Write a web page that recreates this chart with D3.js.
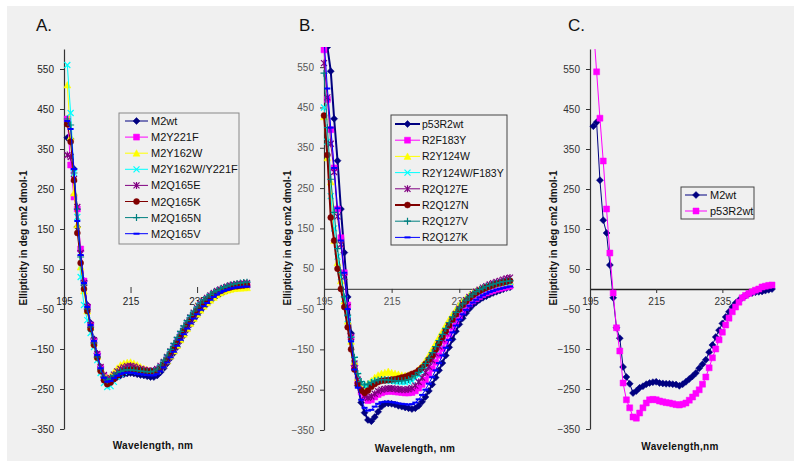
<!DOCTYPE html>
<html><head><meta charset="utf-8">
<script src="https://cdn.jsdelivr.net/npm/d3@7"></script>
<style>body{margin:0;background:#fff}svg{display:block}text{font-family:"Liberation Sans",Arial,sans-serif}</style>
</head><body><svg id="c" width="800" height="466"></svg>
<script>
// ---------- DATA ----------
const yTicks = [550, 450, 350, 250, 150, 50, -50, -150, -250, -350];
const xTicks = [195, 215, 235];
const yTitle = "Ellipticity in deg cm2 dmol-1";

const wavelengthsA = [196,197,198,199,200,201,202,203,204,205,206,207,208,209,210,211,212,213,214,215,216,217,218,219,220,221,222,223,224,225,226,227,228,229,230,231,232,233,234,235,236,237,238,239,240,241,242,243,244,245,246,247,248,249,250];
const namesA = ["M2wt","M2Y221F","M2Y162W","M2Y162W/Y221F","M2Q165E","M2Q165K","M2Q165N","M2Q165V"];
const M2wt_A = [378,375,300,155,95,20,-40,-85,-125,-162, -195,-220,-235,-233,-226,-220,-216,-213,-211,-210, -211,-213,-215,-216,-218,-220,-220,-216,-208,-198, -186,-173,-160,-145,-130,-116,-102,-89,-77,-66, -55,-45,-37,-29,-22,-16,-11,-7,-3,0, 2,3,4,5,5];
const M2Y221F_A = [425,310,230,200,100,20,-45,-90,-130,-165, -198,-218,-228,-226,-218,-210,-203,-198,-195,-193, -195,-198,-201,-203,-205,-206,-206,-203,-196,-186, -174,-161,-147,-132,-117,-103,-89,-76,-64,-53, -43,-34,-27,-20,-14,-9,-5,-1,2,4, 6,7,8,9,10];
const M2Y162W_A = [510,380,240,160,55,-5,-55,-95,-135,-168, -198,-215,-222,-218,-208,-198,-190,-186,-184,-183, -186,-190,-195,-199,-202,-205,-206,-204,-198,-190, -180,-168,-155,-141,-127,-113,-99,-86,-74,-63, -53,-43,-35,-28,-21,-15,-10,-6,-3,-1, 1,2,2,3,3];
const M2Y162WY221F_A = [560,440,290,180,30,-40,-78,-110,-145,-178, -210,-235,-245,-243,-232,-220,-212,-207,-204,-203, -204,-206,-207,-208,-209,-209,-208,-204,-196,-186, -173,-160,-146,-131,-116,-101,-87,-74,-62,-51, -41,-32,-25,-18,-12,-7,-3,1,4,7, 9,10,11,12,12];
const M2Q165E_A = [335,330,275,205,90,15,-45,-90,-128,-162, -195,-215,-225,-222,-214,-206,-200,-196,-193,-192, -194,-197,-200,-202,-204,-205,-204,-200,-192,-182, -170,-156,-142,-127,-112,-98,-84,-71,-59,-48, -38,-30,-22,-16,-10,-5,-1,3,6,9, 11,12,13,14,15];
const M2Q165K_A = [412,368,272,140,65,0,-55,-100,-140,-172, -205,-228,-238,-234,-225,-216,-210,-206,-203,-202, -202,-203,-204,-205,-206,-206,-206,-205,-198,-188, -176,-162,-148,-133,-118,-104,-90,-77,-65,-54, -44,-35,-27,-20,-14,-9,-5,-1,2,4, 6,7,8,9,10];
const M2Q165N_A = [425,410,290,200,80,10,-50,-95,-135,-170, -200,-220,-228,-224,-216,-210,-206,-203,-202,-202, -203,-204,-205,-206,-207,-207,-205,-200,-190,-178, -165,-151,-136,-121,-106,-92,-79,-66,-55,-45, -35,-27,-20,-14,-8,-4,0,4,7,10, 12,14,15,16,17];
const M2Q165V_A = [420,400,300,170,85,15,-45,-90,-130,-165, -198,-222,-232,-230,-223,-217,-213,-210,-209,-209, -210,-212,-213,-214,-215,-216,-216,-213,-206,-196, -184,-171,-157,-142,-127,-113,-99,-86,-74,-63, -52,-43,-35,-27,-20,-14,-9,-5,-2,1, 3,4,5,6,6];

const wavelengthsB = [195,196,197,198,199,200,201,202,203,204,205,206,207,208,209,210,211,212,213,214,215,216,217,218,219,220,221,222,223,224,225,226,227,228,229,230,231,232,233,234,235,236,237,238,239,240,241,242,243,244,245,246,247,248,249,250];
const namesB = ["p53R2wt","R2F183Y","R2Y124W","R2Y124W/F183Y","R2Q127E","R2Q127N","R2Q127V","R2Q127K"];
const p53R2wt_B = [650,600,540,422,318,198,90,-20,-110,-190, -240,-282,-307,-325,-328,-318,-305,-292,-285,-284, -285,-287,-290,-292,-294,-296,-298,-296,-290,-280, -268,-253,-237,-220,-202,-184,-165,-145,-125,-105, -88,-73,-60,-49,-40,-33,-27,-22,-18,-14, -10,-7,-4,-1,2,4];
const R2F183Y_B = [593,470,395,300,198,127,40,-40,-120,-190, -230,-255,-270,-277,-275,-268,-262,-258,-255,-254, -254,-255,-256,-257,-258,-258,-257,-253,-246,-237, -226,-213,-198,-182,-165,-148,-130,-112,-95,-80, -67,-55,-45,-37,-30,-24,-19,-14,-10,-7, -4,-1,1,3,5,7];
const R2Y124W_B = [427,325,265,120,65,20,-30,-80,-130,-180, -220,-238,-242,-236,-228,-220,-214,-210,-208,-205, -208,-210,-212,-214,-215,-214,-212,-208,-200,-190, -178,-165,-150,-135,-120,-105,-90,-76,-63,-51, -40,-31,-23,-16,-10,-5,-1,3,6,9, 11,13,15,16,17,18];
const R2Y124WF183Y_B = [450,365,230,150,80,30,-25,-75,-125,-175, -215,-235,-242,-240,-235,-230,-228,-227,-227,-227, -228,-229,-230,-231,-231,-230,-228,-223,-215,-205, -193,-180,-165,-150,-135,-120,-105,-90,-76,-63, -51,-40,-31,-23,-16,-10,-5,-1,3,6, 9,11,13,15,16,17];
const R2Q127E_B = [560,475,360,290,180,110,30,-45,-120,-185, -225,-250,-265,-270,-267,-260,-254,-250,-248,-247, -247,-248,-249,-250,-250,-249,-246,-240,-231,-220, -207,-193,-177,-160,-143,-125,-108,-91,-76,-62, -49,-38,-28,-20,-13,-7,-2,3,7,11, 14,17,20,23,26,28];
const R2Q127N_B = [430,332,177,120,50,0,-45,-95,-150,-200, -235,-252,-258,-252,-243,-236,-231,-228,-227,-226, -225,-224,-222,-220,-218,-215,-211,-208,-202,-195, -186,-175,-165,-150,-135,-120,-105,-90,-76,-63, -51,-40,-31,-23,-16,-10,-5,-1,3,6, 9,12,14,16,18,20];
const R2Q127V_B = [535,400,272,190,100,40,-20,-65,-120,-170, -210,-230,-238,-236,-232,-228,-226,-225,-225,-226, -227,-228,-228,-228,-227,-225,-221,-215,-207,-197, -185,-172,-158,-143,-128,-113,-98,-84,-70,-58, -47,-37,-28,-20,-13,-7,-2,2,6,9, 12,14,16,18,19,20];
const R2Q127K_B = [620,497,400,300,200,120,40,-50,-130,-200, -245,-275,-295,-302,-300,-292,-285,-281,-280,-280, -281,-282,-284,-285,-286,-287,-286,-282,-274,-263, -250,-235,-219,-202,-184,-165,-146,-127,-108,-91, -76,-63,-52,-42,-34,-27,-21,-16,-12,-8, -5,-2,0,2,4,6];

const wavelengthsC = [196,197,198,199,200,201,202,203,204,205,206,207,208,209,210,211,212,213,214,215,216,217,218,219,220,221,222,223,224,225,226,227,228,229,230,231,232,233,234,235,236,237,238,239,240,241,242,243,244,245,246,247,248,249,250];
const namesC = ["M2wt","p53R2wt"];
const M2wt_C = [407,417,272,172,140,60,-22,-97,-123,-195, -220,-237,-260,-255,-247,-243,-238,-235,-233,-232, -235,-236,-237,-237,-238,-239,-242,-238,-232,-225, -218,-210,-198,-188,-177,-158,-140,-120,-103,-86, -70,-57,-45,-35,-28,-22,-17,-12,-10,-8, -7,-6,-4,-2,0];
const p53R2wt_C = [660,543,427,320,200,90,-10,-97,-155,-235, -277,-297,-320,-323,-310,-297,-285,-277,-276,-277, -280,-282,-284,-285,-287,-289,-290,-288,-285,-278, -270,-261,-252,-238,-220,-197,-172,-150,-127,-108, -90,-73,-57,-45,-33,-22,-16,-11,-7,-3, 0,5,7,9,10];

// ---------- STYLES ----------
const st8 = [
  {color:"#000080", marker:"diamond", lw:1},
  {color:"#FF00FF", marker:"square", lw:1},
  {color:"#FFFF00", marker:"triangle", lw:1},
  {color:"#00FFFF", marker:"x", lw:1},
  {color:"#800080", marker:"star", lw:1},
  {color:"#800000", marker:"circle", lw:1},
  {color:"#008080", marker:"plus", lw:1},
  {color:"#0000FF", marker:"dash", lw:1}
];
const stB = st8.map((s,i)=> (i===0||i===5) ? Object.assign({}, s, {lw:2}) : s);
const stC = [{color:"#000080", marker:"diamond", lw:1},{color:"#FF00FF", marker:"square", lw:1}];

const panels = [
  {title:"A.", w:wavelengthsA, names:namesA, values:[M2wt_A,M2Y221F_A,M2Y162W_A,M2Y162WY221F_A,M2Q165E_A,M2Q165K_A,M2Q165N_A,M2Q165V_A], st:st8,
   xr:[64,247], yr:[429,49], showXLine:false, tickCol:"#222", titleXY:[36,31], yTitleX:23, xTitle:"Wavelength, nm", xTitleXY:[153,449],
   leg:{x:119,y:113,w:120,h:131,first:121,step:16.1,lx1:125,lx2:148,tx:151,fs:11,stroke:"#888"}},
  {title:"B.", w:wavelengthsB, names:namesB, values:[p53R2wt_B,R2F183Y_B,R2Y124W_B,R2Y124WF183Y_B,R2Q127E_B,R2Q127N_B,R2Q127V_B,R2Q127K_B], st:stB,
   xr:[324,510], yr:[430,47], showXLine:true, lineCol:"#555", tickCol:"#555", titleXY:[299,31], yTitleX:287, xTitle:"Wavelength, nm", xTitleXY:[415,452],
   leg:{x:391,y:115,w:116,h:130,first:124,step:16.2,lx1:395,lx2:420,tx:422,fs:10.5,stroke:"#444"}},
  {title:"C.", w:wavelengthsC, names:namesC, values:[M2wt_C,p53R2wt_C], st:stC,
   xr:[590,772], yr:[429,49], showXLine:true, lineCol:"#222", tickCol:"#333", titleXY:[568,31], yTitleX:553, xTitle:"Wavelength,nm", xTitleXY:[680,450],
   leg:{x:681,y:187,w:73,h:32,first:195,step:16,lx1:685,lx2:707,tx:710,fs:11,stroke:"#444"}}
];

// ---------- DRAW ----------
const svg = d3.select("#c");
svg.append("rect").attr("x",7).attr("y",6).attr("width",787).attr("height",455).attr("fill","#f0f0f0");

function markerPath(t){
  switch(t){
    case "diamond": return "M0,-3.5L3.5,0L0,3.5L-3.5,0Z";
    case "square": return "M-3,-3h6v6h-6Z";
    case "triangle": return "M0,-3.5L3.5,3L-3.5,3Z";
    case "x": return "M-3,-3L3,3M-3,3L3,-3";
    case "star": return "M-3,-3L3,3M-3,3L3,-3M0,-3.5V3.5";
    case "circle": return "M-3,0A3,3 0 1,0 3,0A3,3 0 1,0 -3,0Z";
    case "plus": return "M-3.5,0H3.5M0,-3.5V3.5";
    case "dash": return "M-3,0H3";
  }
}
const filled = {diamond:true, square:true, triangle:true, circle:true};

function drawMarker(g, t, color, x, y){
  const p = g.append("path").attr("d", markerPath(t)).attr("transform", `translate(${x},${y})`);
  if (filled[t]) p.attr("fill", color).attr("stroke", color).attr("stroke-width", 0.5);
  else p.attr("fill","none").attr("stroke", color).attr("stroke-width", t==="dash"?2:1.2);
}

panels.forEach((P, pi) => {
  const x = d3.scaleLinear().domain([195, 250]).range(P.xr);
  const y = d3.scaleLinear().domain([-350, 600]).range(P.yr);
  const g = svg.append("g");

  // clip
  const cid = "clip" + pi;
  svg.append("clipPath").attr("id", cid).append("rect")
    .attr("x", P.xr[0]-6).attr("y", y(600)).attr("width", P.xr[1]-P.xr[0]+14).attr("height", y(-350)-y(600)+6);

  // y axis
  const ya = g.append("g").attr("transform", `translate(${P.xr[0]},0)`)
    .call(d3.axisLeft(y).tickValues(yTicks).tickSize(4).tickSizeOuter(0).tickPadding(6));
  ya.select(".domain").attr("stroke","#333").attr("stroke-width",1.2);
  ya.selectAll(".tick line").attr("stroke","#333");
  ya.selectAll(".tick text").attr("fill", P.tickCol).attr("font-size", 10).attr("font-family","'Liberation Sans',Arial,sans-serif");

  // x axis at y=0
  const xa = g.append("g").attr("transform", `translate(0,${y(0)})`)
    .call(d3.axisBottom(x).tickValues(xTicks).tickSize(4).tickSizeOuter(0).tickPadding(5));
  xa.select(".domain").attr("stroke", P.showXLine ? P.lineCol : "none").attr("stroke-width", 1.3);
  xa.selectAll(".tick line").attr("stroke","#333").attr("y1", P.showXLine ? 0 : -2);
  xa.selectAll(".tick text").attr("fill", P.tickCol).attr("font-size", 10).attr("font-family","'Liberation Sans',Arial,sans-serif");

  // series
  const plot = g.append("g").attr("clip-path", `url(#${cid})`);
  P.values.forEach((vals, si) => {
    const s = P.st[si];
    const pts = vals.map((v,i) => [P.w[i], v]);
    plot.append("path").datum(pts)
      .attr("fill","none").attr("stroke", s.color).attr("stroke-width", s.lw)
      .attr("d", d3.line().x(d=>x(d[0])).y(d=>y(d[1])));
    const mg = plot.append("g");
    pts.forEach(d => drawMarker(mg, s.marker, s.color, x(d[0]), y(d[1])));
  });

  // titles
  svg.append("text").attr("x", P.titleXY[0]).attr("y", P.titleXY[1]).attr("font-size", 17).attr("fill","#111").text(P.title);
  svg.append("text").attr("transform", `translate(${P.yTitleX},238) rotate(-90)`)
    .attr("text-anchor","middle").attr("dominant-baseline","central")
    .attr("font-size", 10).attr("font-weight","bold").attr("fill","#111").text(yTitle);
  svg.append("text").attr("x", P.xTitleXY[0]).attr("y", P.xTitleXY[1]).attr("text-anchor","middle")
    .attr("font-size", 10).attr("font-weight","bold").attr("fill","#111").attr("letter-spacing", 0.3).text(P.xTitle);

  // legend
  const L = P.leg;
  const lg = svg.append("g");
  lg.append("rect").attr("x", L.x).attr("y", L.y).attr("width", L.w).attr("height", L.h)
    .attr("fill","#f0f0f0").attr("stroke", L.stroke).attr("stroke-width", 1);
  P.names.forEach((n, i) => {
    const s = P.st[i];
    const cy = L.first + i*L.step;
    lg.append("line").attr("x1", L.lx1).attr("x2", L.lx2).attr("y1", cy).attr("y2", cy)
      .attr("stroke", s.color).attr("stroke-width", s.lw);
    drawMarker(lg, s.marker, s.color, (L.lx1+L.lx2)/2, cy);
    lg.append("text").attr("x", L.tx).attr("y", cy).attr("dominant-baseline","central")
      .attr("font-size", L.fs).attr("fill","#111").text(n);
  });
});
</script></body></html>
